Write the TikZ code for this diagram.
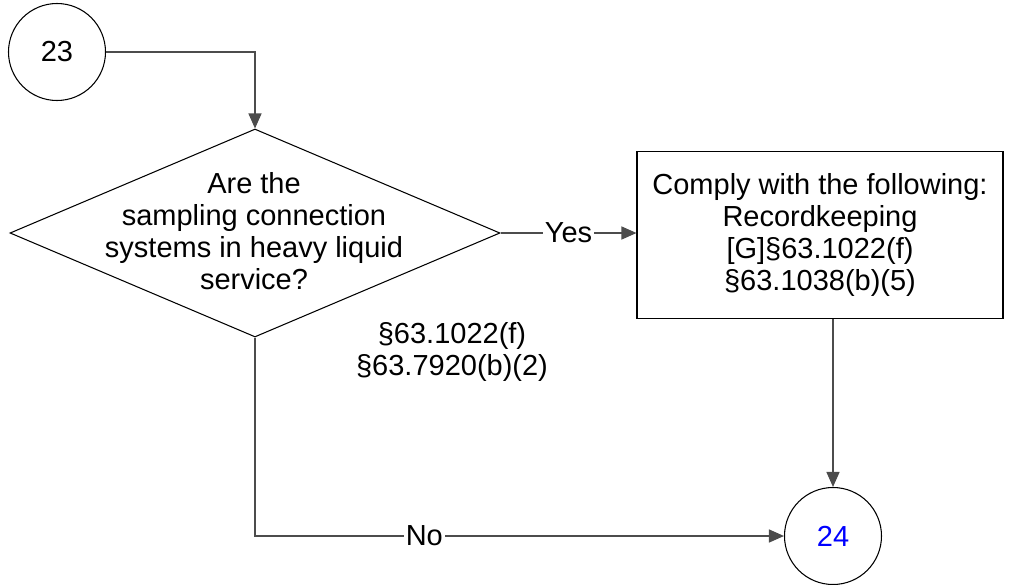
\documentclass[tikz,border=0pt]{standalone}
\usepackage{fontspec}
\setmainfont{Liberation Sans}
\usetikzlibrary{shapes.geometric,arrows.meta}
\tikzset{
  conn/.style={draw=black!70,line width=0.8pt},
  tip/.style={-{Triangle[length=3mm,width=2.6mm]}},
  term/.style={draw,circle,line width=0.6pt,minimum size=97*0.02cm,inner sep=0pt},
  decide/.style={draw,diamond,line width=0.6pt,minimum width=490*0.02cm,minimum height=208*0.02cm,inner sep=0pt},
  action/.style={draw,rectangle,line width=0.6pt,minimum width=366*0.02cm,minimum height=167*0.02cm,align=center},
  lbl/.style={fill=white,inner sep=1pt}
}
\begin{document}
\begin{tikzpicture}[x=0.02cm,y=-0.02cm,font=\fontsize{16.5}{18.2}\selectfont]
    \useasboundingbox (0,0) rectangle (1018,585);
    \node[term] (c23) at (57,52) {23};
    \node[decide] (q) at (255,233) {};
    \node[align=center] (qtext) at (254,231) {Are the\\sampling connection\\systems in heavy liquid\\service?};
    \node[action] (comply) at (820,235) {Comply with the following:\\Recordkeeping\\{[G]}§63.1022(f)\\§63.1038(b)(5)};
    \node[term] (c24) at (833,536) {\textcolor{blue}{24}};
    \node[align=center] (ref) at (452,352) {§63.1022(f)\\§63.7920(b)(2)};
    \draw[conn,tip] (c23.east) -| (q.north);
    \draw[conn,tip] (q.east) -- node[lbl] {Yes} (q.east -| comply.west);
    \draw[conn,tip] (comply.south -| c24.north) -- (c24.north);
    \draw[conn,tip] (q.south) |- node[lbl,pos=0.66] {No} (c24.west);
\end{tikzpicture}
\end{document}
